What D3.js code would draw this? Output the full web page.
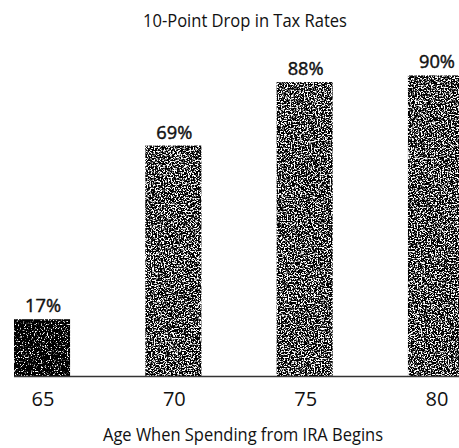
<!DOCTYPE html>
<html>
<head>
<meta charset="utf-8">
<script src="https://cdn.jsdelivr.net/npm/d3@7"></script>
<style>
  html, body { margin: 0; padding: 0; background: #fff; }
  svg { display: block; }
  text { font-family: "Open Sans", "Noto Sans", sans-serif; fill: #111; }
</style>
</head>
<body>
<svg id="chart" width="459" height="448"></svg>
<script>
// Share of benefit by starting age of IRA withdrawals
const ages = ["65", "70", "75", "80"];
const shares = [17, 69, 88, 90];
const chartTitle = "10-Point Drop in Tax Rates";
const axisTitle = "Age When Spending from IRA Begins";

const svg = d3.select("#chart");
const W = 459, H = 448;

const x = d3.scaleBand()
  .domain(ages)
  .range([14, 464])
  .paddingInner(0.573)
  .paddingOuter(0);

const y = d3.scaleLinear()
  .domain([0, 100])
  .range([376, 42]);

// Speckled halftone fills built from thresholded noise
const defs = svg.append("defs");
function grain(id, threshold, seed) {
  const f = defs.append("filter")
    .attr("id", id)
    .attr("x", 0).attr("y", 0).attr("width", 1).attr("height", 1)
    .attr("color-interpolation-filters", "sRGB");
  f.append("feTurbulence")
    .attr("type", "fractalNoise")
    .attr("baseFrequency", 0.7)
    .attr("numOctaves", 3)
    .attr("seed", seed)
    .attr("result", "noise");
  f.append("feColorMatrix")
    .attr("in", "noise")
    .attr("type", "matrix")
    .attr("values", "1 0 0 0 0  1 0 0 0 0  1 0 0 0 0  0 0 0 0 1")
    .attr("result", "gray");
  const ct = f.append("feComponentTransfer").attr("in", "gray").attr("result", "bw");
  const slope = 7;
  ["feFuncR", "feFuncG", "feFuncB"].forEach(fn => {
    ct.append(fn).attr("type", "linear").attr("slope", slope).attr("intercept", 0.5 - slope * threshold);
  });
  f.append("feComposite").attr("in", "bw").attr("in2", "SourceGraphic").attr("operator", "in");
}
grain("grain-dark", 0.64, 4);
grain("grain-mid", 0.545, 11);

const g = svg.append("g");

g.selectAll("rect.bar")
  .data(shares)
  .join("rect")
  .attr("class", "bar")
  .attr("x", (d, i) => x(ages[i]))
  .attr("y", d => y(d))
  .attr("width", x.bandwidth())
  .attr("height", d => y(0) - y(d))
  .attr("fill", "#000")
  .attr("filter", (d, i) => i === 0 ? "url(#grain-dark)" : "url(#grain-mid)");

// Baseline
svg.append("line")
  .attr("x1", 14).attr("x2", W)
  .attr("y1", y(0) + 0.5).attr("y2", y(0) + 0.5)
  .attr("stroke", "#333")
  .attr("stroke-width", 1.5);

// Value labels, slightly heavier than the other text
g.selectAll("text.value")
  .data(shares)
  .join("text")
  .attr("class", "value")
  .attr("x", (d, i) => x(ages[i]) + x.bandwidth() / 2 + 1)
  .attr("y", d => y(d) - 7)
  .attr("text-anchor", "middle")
  .attr("font-size", 19)
  .attr("stroke", "#111")
  .attr("stroke-width", 0.45)
  .attr("textLength", 36)
  .attr("lengthAdjust", "spacingAndGlyphs")
  .text(d => d + "%");

// Category axis
const axis = svg.append("g")
  .attr("transform", `translate(0,${y(0)})`)
  .call(d3.axisBottom(x).tickSize(0).tickPadding(0));
axis.select(".domain").remove();
axis.selectAll("text")
  .attr("y", 30)
  .attr("dy", 0)
  .attr("x", 1)
  .attr("font-size", 20)
  .attr("font-family", "Open Sans, Noto Sans, sans-serif")
  .attr("fill", "#111");

// Titles
svg.append("text")
  .attr("x", 245)
  .attr("y", 27)
  .attr("text-anchor", "middle")
  .attr("font-size", 19)
  .attr("textLength", 204)
  .attr("lengthAdjust", "spacingAndGlyphs")
  .text(chartTitle);

svg.append("text")
  .attr("x", 243)
  .attr("y", 441)
  .attr("text-anchor", "middle")
  .attr("font-size", 19)
  .attr("textLength", 280)
  .attr("lengthAdjust", "spacingAndGlyphs")
  .text(axisTitle);
</script>
</body>
</html>
